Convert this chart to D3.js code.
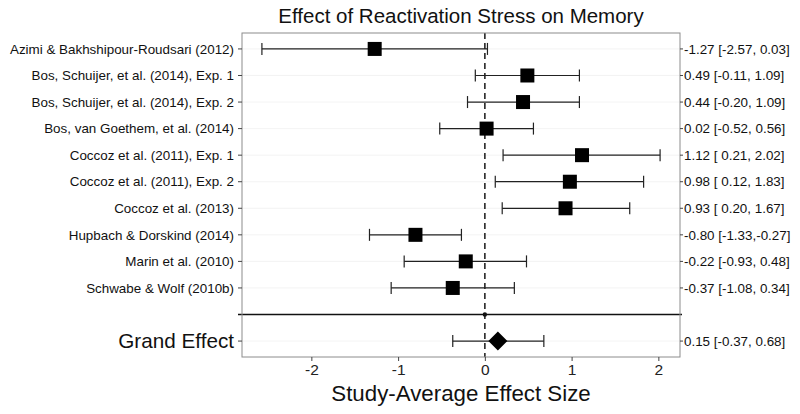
<!DOCTYPE html>
<html lang="en">
<head>
    <meta charset="UTF-8">
    <title>Forest plot</title>
    <script src="https://d3js.org/d3.v7.min.js"></script>
    <style>
        body {margin: 0; background: #fff;}
        text {font-family: "Liberation Sans", Arial, sans-serif;}
    </style>
</head>
<body>
<div id="chart"></div>
<script>
// Study data
var studies = [
    "Azimi & Bakhshipour-Roudsari (2012)",
    "Bos, Schuijer, et al. (2014), Exp. 1",
    "Bos, Schuijer, et al. (2014), Exp. 2",
    "Bos, van Goethem, et al. (2014)",
    "Coccoz et al. (2011), Exp. 1",
    "Coccoz et al. (2011), Exp. 2",
    "Coccoz et al. (2013)",
    "Hupbach & Dorskind (2014)",
    "Marin et al. (2010)",
    "Schwabe & Wolf (2010b)"
];
var estimates = [-1.27, 0.49, 0.44, 0.02, 1.12, 0.98, 0.93, -0.80, -0.22, -0.37];
var lower = [-2.57, -0.11, -0.20, -0.52, 0.21, 0.12, 0.20, -1.33, -0.93, -1.08];
var upper = [0.03, 1.09, 1.09, 0.56, 2.02, 1.83, 1.67, -0.27, 0.48, 0.34];
var ciLabels = [
    "-1.27 [-2.57, 0.03]",
    "0.49 [-0.11, 1.09]",
    "0.44 [-0.20, 1.09]",
    "0.02 [-0.52, 0.56]",
    "1.12 [ 0.21, 2.02]",
    "0.98 [ 0.12, 1.83]",
    "0.93 [ 0.20, 1.67]",
    "-0.80 [-1.33,-0.27]",
    "-0.22 [-0.93, 0.48]",
    "-0.37 [-1.08, 0.34]"
];
var grandLabel = "Grand Effect";
var grandEstimate = 0.15;
var grandLower = -0.37;
var grandUpper = 0.68;
var grandCiLabel = "0.15 [-0.37, 0.68]";
var xTicks = [-2, -1, 0, 1, 2];

// Layout
var width = 800, height = 414;
var pLeft = 242, pRight = 680, pTop = 33, pBottom = 357;

var rows = studies.concat(["__blank__", grandLabel]);

var svg = d3.select("#chart").append("svg")
    .attr("width", width)
    .attr("height", height);

// Scales
var allLow = d3.min(lower.concat([grandLower]));
var allHigh = d3.max(upper.concat([grandUpper]));
var pad = (allHigh - allLow) * 0.05;
var xScale = d3.scaleLinear()
    .domain([allLow - pad, allHigh + pad])
    .range([pLeft, pRight]);

var yScale = d3.scalePoint()
    .domain(rows)
    .range([pTop, pBottom])
    .padding(0.6);

// Panel background grid (horizontal only)
svg.append("g")
    .selectAll("line")
    .data(rows)
    .enter()
    .append("line")
        .attr("x1", pLeft)
        .attr("x2", pRight)
        .attr("y1", function(d){ return yScale(d); })
        .attr("y2", function(d){ return yScale(d); })
        .attr("stroke", "#f0f0f0")
        .attr("stroke-width", 0.8);

// Dashed zero line
svg.append("line")
    .attr("x1", xScale(0))
    .attr("x2", xScale(0))
    .attr("y1", pTop)
    .attr("y2", pBottom)
    .attr("stroke", "#333")
    .attr("stroke-width", 1.7)
    .attr("stroke-dasharray", "6,4");

// Separator line before grand effect
var sepY = yScale("__blank__");
svg.append("line")
    .attr("x1", pLeft - 4)
    .attr("x2", pRight + 2)
    .attr("y1", sepY)
    .attr("y2", sepY)
    .attr("stroke", "#111")
    .attr("stroke-width", 1.4);
svg.append("circle")
    .attr("cx", xScale(0))
    .attr("cy", sepY)
    .attr("r", 2.2)
    .attr("fill", "#111");

// Error bars for studies
var capHalf = 6;
var bars = svg.append("g").selectAll("g")
    .data(studies)
    .enter()
    .append("g");

bars.append("line")
    .attr("x1", function(d, i){ return xScale(lower[i]); })
    .attr("x2", function(d, i){ return xScale(upper[i]); })
    .attr("y1", function(d){ return yScale(d); })
    .attr("y2", function(d){ return yScale(d); })
    .attr("stroke", "#222")
    .attr("stroke-width", 1.2);
bars.append("line")
    .attr("x1", function(d, i){ return xScale(lower[i]); })
    .attr("x2", function(d, i){ return xScale(lower[i]); })
    .attr("y1", function(d){ return yScale(d) - capHalf; })
    .attr("y2", function(d){ return yScale(d) + capHalf; })
    .attr("stroke", "#222")
    .attr("stroke-width", 1.2);
bars.append("line")
    .attr("x1", function(d, i){ return xScale(upper[i]); })
    .attr("x2", function(d, i){ return xScale(upper[i]); })
    .attr("y1", function(d){ return yScale(d) - capHalf; })
    .attr("y2", function(d){ return yScale(d) + capHalf; })
    .attr("stroke", "#222")
    .attr("stroke-width", 1.2);

// Squares
var sq = 14;
bars.append("rect")
    .attr("x", function(d, i){ return xScale(estimates[i]) - sq / 2; })
    .attr("y", function(d){ return yScale(d) - sq / 2; })
    .attr("width", sq)
    .attr("height", sq)
    .attr("fill", "#000");

// Grand effect
var gy = yScale(grandLabel);
var g = svg.append("g");
g.append("line")
    .attr("x1", xScale(grandLower)).attr("x2", xScale(grandUpper))
    .attr("y1", gy).attr("y2", gy)
    .attr("stroke", "#222").attr("stroke-width", 1.2);
[grandLower, grandUpper].forEach(function(v){
    g.append("line")
        .attr("x1", xScale(v)).attr("x2", xScale(v))
        .attr("y1", gy - capHalf).attr("y2", gy + capHalf)
        .attr("stroke", "#222").attr("stroke-width", 1.2);
});
var dh = 9.5;
g.append("path")
    .attr("d", "M" + (xScale(grandEstimate) - dh) + "," + gy +
               "L" + xScale(grandEstimate) + "," + (gy - dh) +
               "L" + (xScale(grandEstimate) + dh) + "," + gy +
               "L" + xScale(grandEstimate) + "," + (gy + dh) + "Z")
    .attr("fill", "#000");

// Panel border
svg.append("rect")
    .attr("x", pLeft)
    .attr("y", pTop)
    .attr("width", pRight - pLeft)
    .attr("height", pBottom - pTop)
    .attr("fill", "none")
    .attr("stroke", "#8c8c8c")
    .attr("stroke-width", 1);

// Left axis labels
var leftAxis = svg.append("g");
rows.forEach(function(r){
    if (r === "__blank__") return;
    var y = yScale(r);
    leftAxis.append("line")
        .attr("x1", pLeft - 4).attr("x2", pLeft)
        .attr("y1", y).attr("y2", y)
        .attr("stroke", "#444");
    leftAxis.append("text")
        .attr("x", pLeft - 8)
        .attr("y", y)
        .attr("dy", "0.35em")
        .attr("text-anchor", "end")
        .attr("font-size", r === grandLabel ? "20.7px" : "13.4px")
        .attr("fill", "#111")
        .text(r);
});

// Right axis labels
var rightAxis = svg.append("g");
var rightRows = studies.concat([grandLabel]);
var rightTexts = ciLabels.concat([grandCiLabel]);
rightRows.forEach(function(r, i){
    var y = yScale(r);
    rightAxis.append("line")
        .attr("x1", pRight).attr("x2", pRight + 3)
        .attr("y1", y).attr("y2", y)
        .attr("stroke", "#444");
    rightAxis.append("text")
        .attr("x", pRight + 4)
        .attr("y", y)
        .attr("dy", "0.35em")
        .attr("font-size", "13.4px")
        .attr("fill", "#111")
        .style("white-space", "pre")
        .text(rightTexts[i]);
});

// Bottom axis
var xAxis = d3.axisBottom(xScale)
    .tickValues(xTicks)
    .tickFormat(d3.format("d"))
    .tickSize(4)
    .tickPadding(3);
var xg = svg.append("g")
    .attr("transform", "translate(0," + pBottom + ")")
    .call(xAxis);
xg.select(".domain").remove();
xg.selectAll(".tick line").attr("stroke", "#444");
xg.selectAll(".tick text")
    .attr("font-size", "15.5px")
    .attr("fill", "#222")
    .attr("font-family", "Liberation Sans, Arial, sans-serif")
    .text(function(d){ return d < 0 ? "-" + Math.abs(d) : d; });

// Title and axis title
svg.append("text")
    .attr("x", (pLeft + pRight) / 2)
    .attr("y", 23)
    .attr("text-anchor", "middle")
    .attr("font-size", "20.5px")
    .attr("fill", "#111")
    .text("Effect of Reactivation Stress on Memory");

svg.append("text")
    .attr("x", (pLeft + pRight) / 2)
    .attr("y", 401)
    .attr("text-anchor", "middle")
    .attr("font-size", "22.3px")
    .attr("fill", "#111")
    .text("Study-Average Effect Size");
</script>
</body>
</html>
